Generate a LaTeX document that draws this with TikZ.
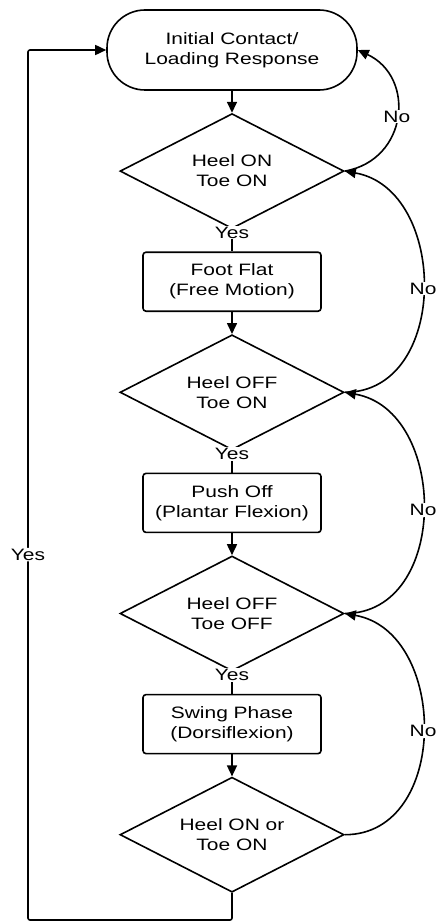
\documentclass[tikz,border=0pt]{standalone}
\usepackage{fontspec}
\setmainfont[FakeStretch=1.27]{Liberation Sans}
\usetikzlibrary{positioning, shapes.geometric, arrows.meta}

\begin{document}
\begin{tikzpicture}[
	x=1pt, y=1pt,
	>={Triangle[length=11pt,width=10pt]},
	font=\fontsize{16.5pt}{20pt}\selectfont,
	node distance=22pt,
	terminal/.style={
		rectangle, draw, line width=1.6pt, rounded corners=38pt,
		minimum width=250pt, minimum height=80pt, align=center
	},
	decision/.style={
		diamond, draw, line width=1.6pt, aspect=2, inner sep=0pt,
		minimum width=224pt, minimum height=115pt, align=center
	},
	process/.style={
		rectangle, draw, line width=1.6pt, rounded corners=3pt,
		minimum width=178pt, minimum height=59pt, align=center
	},
	arrow/.style={->, line width=1.6pt},
	link/.style={line width=1.6pt},
	lbl/.style={fill=white, inner sep=1pt}
	]
	
	\useasboundingbox (0,0) rectangle (436,-923);
	
	% Gait phases and sensor checks
	\node[terminal] (contact) at (232,-50) {Initial Contact/\\Loading Response};
	\node[decision, below=of contact] (bothon) {Heel ON\\Toe ON};
	\node[process, below=of bothon] (flat) {Foot Flat\\(Free Motion)};
	\node[decision, below=of flat] (heeloff) {Heel OFF\\Toe ON};
	\node[process, below=of heeloff] (push) {Push Off\\(Plantar Flexion)};
	\node[decision, below=of push] (bothoff) {Heel OFF\\Toe OFF};
	\node[process, below=of bothoff] (swing) {Swing Phase\\(Dorsiflexion)};
	\node[decision, below=of swing] (anyon) {Heel ON or\\Toe ON};
	
	\coordinate (loop) at (28,-920);
	
	% Main path
	\draw[arrow] (contact) -- (bothon);
	\draw[link] (bothon.south) -- node[lbl, pos=0.15] {Yes} (flat.north);
	\draw[arrow] (flat) -- (heeloff);
	\draw[link] (heeloff.south) -- node[lbl, pos=0.15] {Yes} (push.north);
	\draw[arrow] (push) -- (bothoff);
	\draw[link] (bothoff.south) -- node[lbl, pos=0.15] {Yes} (swing.north);
	\draw[arrow] (swing) -- (anyon);
	
	% Back to the start
	\draw[arrow, rounded corners=2pt] (anyon.south) |- (loop) |- node[lbl, pos=0.21] {Yes} (contact.west);
	
	% No branches
	\draw[arrow] (bothon.east) to[out=10, in=-25, looseness=1.35] node[lbl] {No} (contact.east);
	\draw[arrow] (heeloff.east) to[out=0, in=-10, looseness=1.22] node[lbl] {No} (bothon.east);
	\draw[arrow] (bothoff.east) to[out=0, in=-10, looseness=1.22] node[lbl] {No} (heeloff.east);
	\draw[arrow] (anyon.east) to[out=0, in=-10, looseness=1.22] node[lbl] {No} (bothoff.east);
	
\end{tikzpicture}
\end{document}
